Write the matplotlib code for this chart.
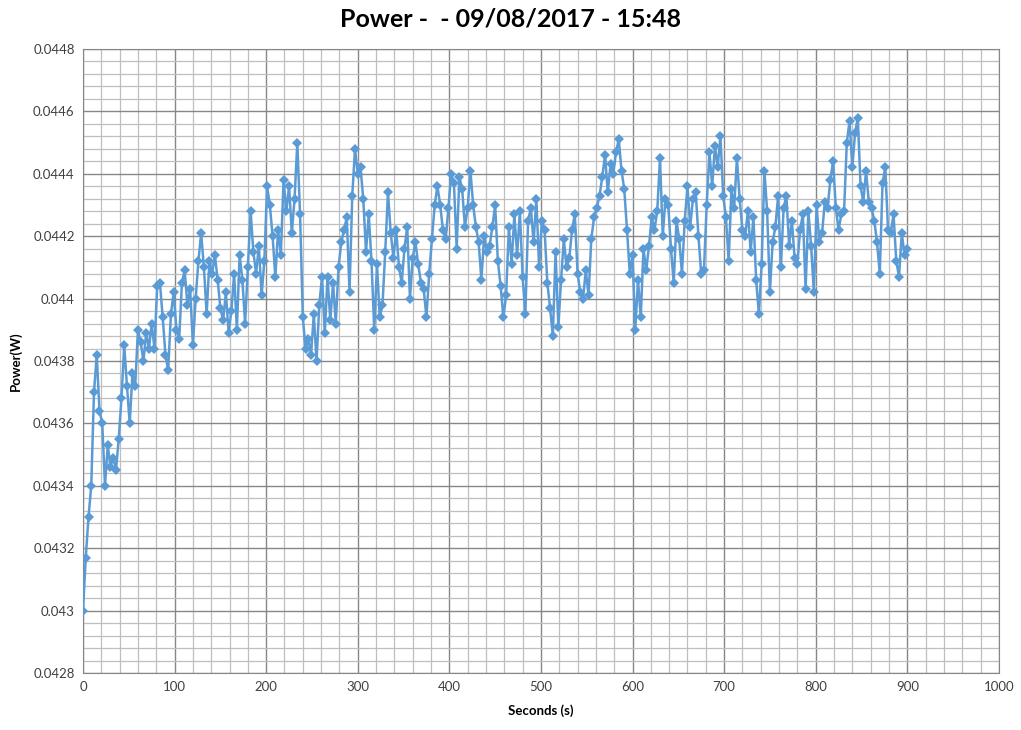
import numpy as np
import matplotlib
matplotlib.use("Agg")
import matplotlib.pyplot as plt
from matplotlib.ticker import MultipleLocator, FuncFormatter

# Power readings (mW), one every 3 seconds
power_mw = [
    43.00, 43.17, 43.30, 43.40, 43.70, 43.82, 43.64, 43.60, 43.40, 43.53,
    43.46, 43.49, 43.45, 43.55, 43.68, 43.85, 43.72, 43.60, 43.76, 43.72,
    43.90, 43.86, 43.80, 43.89, 43.84, 43.92, 43.84, 44.04, 44.05, 43.94,
    43.82, 43.77, 43.95, 44.02, 43.90, 43.87, 44.05, 44.09, 43.98, 44.03,
    43.85, 44.00, 44.12, 44.21, 44.10, 43.95, 44.12, 44.08, 44.14, 44.06,
    43.97, 43.93, 44.02, 43.89, 43.96, 44.08, 43.90, 44.14, 44.06, 43.92,
    44.10, 44.28, 44.15, 44.08, 44.17, 44.01, 44.12, 44.36, 44.30, 44.20,
    44.07, 44.22, 44.14, 44.38, 44.28, 44.36, 44.21, 44.32, 44.50, 44.27,
    43.94, 43.84, 43.87, 43.82, 43.95, 43.80, 43.98, 44.07, 43.89, 44.07,
    43.93, 44.05, 43.92, 44.10, 44.18, 44.22, 44.26, 44.02, 44.33, 44.48,
    44.40, 44.42, 44.32, 44.15, 44.27, 44.12, 43.90, 44.11, 43.94, 43.98,
    44.15, 44.34, 44.21, 44.13, 44.22, 44.10, 44.05, 44.16, 44.23, 44.00,
    44.13, 44.18, 44.11, 44.05, 44.03, 43.94, 44.08, 44.19, 44.30, 44.36,
    44.30, 44.22, 44.19, 44.29, 44.40, 44.37, 44.16, 44.39, 44.35, 44.23,
    44.29, 44.41, 44.30, 44.23, 44.18, 44.06, 44.20, 44.15, 44.17, 44.23,
    44.30, 44.12, 44.04, 43.94, 44.01, 44.23, 44.11, 44.27, 44.14, 44.28,
    44.07, 43.95, 44.25, 44.29, 44.18, 44.32, 44.10, 44.25, 44.22, 44.05,
    43.97, 43.88, 44.15, 43.91, 44.06, 44.19, 44.10, 44.13, 44.22, 44.27,
    44.08, 44.02, 44.00, 44.09, 44.01, 44.19, 44.26, 44.29, 44.33, 44.39,
    44.46, 44.34, 44.43, 44.40, 44.47, 44.51, 44.41, 44.35, 44.22, 44.08,
    44.14, 43.90, 44.06, 43.94, 44.16, 44.09, 44.17, 44.26, 44.22, 44.28,
    44.45, 44.20, 44.32, 44.30, 44.16, 44.05, 44.25, 44.19, 44.08, 44.25,
    44.36, 44.23, 44.32, 44.34, 44.20, 44.08, 44.09, 44.30, 44.47, 44.36,
    44.49, 44.42, 44.52, 44.33, 44.26, 44.12, 44.35, 44.29, 44.45, 44.32,
    44.22, 44.20, 44.28, 44.15, 44.26, 44.06, 43.95, 44.11, 44.41, 44.28,
    44.02, 44.18, 44.23, 44.33, 44.10, 44.29, 44.33, 44.17, 44.25, 44.13,
    44.11, 44.22, 44.27, 44.03, 44.28, 44.17, 44.02, 44.30, 44.18, 44.21,
    44.31, 44.29, 44.38, 44.44, 44.29, 44.22, 44.27, 44.28, 44.50, 44.57,
    44.42, 44.53, 44.58, 44.36, 44.31, 44.41, 44.31, 44.29, 44.25, 44.18,
    44.08, 44.37, 44.42, 44.22, 44.21, 44.27, 44.12, 44.07, 44.21, 44.14,
    44.16,
]
step_s = 3
seconds = np.arange(len(power_mw)) * step_s
power_w = np.array(power_mw) / 1000

plt.rcParams['font.family'] = ['Lato', 'DejaVu Sans']

fig = plt.figure(figsize=(10.21, 7.30), dpi=100)
ax = fig.add_axes([0.0813, 0.078, 0.897, 0.855])

ax.plot(seconds, power_w, color='#5B9BD5', linewidth=1.8,
        marker='D', markersize=5.5, markeredgewidth=0, zorder=3)

ax.set_xlim(0, 1000)
ax.set_ylim(0.0428, 0.0448)
ax.xaxis.set_major_locator(MultipleLocator(100))
ax.xaxis.set_minor_locator(MultipleLocator(20))
ax.yaxis.set_major_locator(MultipleLocator(0.0002))
ax.yaxis.set_minor_locator(MultipleLocator(0.00004))
ax.yaxis.set_major_formatter(FuncFormatter(lambda v, p: f"{v:.4f}".rstrip('0')))

ax.grid(which='major', color='#878787', linewidth=1.0)
ax.grid(which='minor', color='#BFBFBF', linewidth=0.9)
ax.set_axisbelow(True)
for s in ax.spines.values():
    s.set_color('#878787')
ax.tick_params(which='both', length=0, labelsize=9.5, colors='#404040', pad=6)

ax.set_xlabel('Seconds (s)', fontsize=9.5, fontweight='bold', labelpad=8)
ax.set_ylabel('Power(W)', fontsize=9.5, fontweight='bold', labelpad=8)
fig.suptitle('Power -  - 09/08/2017 - 15:48', fontsize=18, fontweight='bold', y=0.99)

fig.savefig('out.png', dpi=100)
